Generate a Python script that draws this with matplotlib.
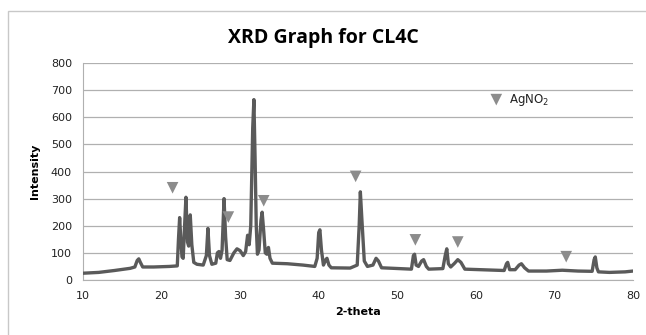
import matplotlib
matplotlib.use("Agg")
import matplotlib.pyplot as plt
from matplotlib.patches import Rectangle

# XRD pattern
two_theta = [10.0, 12.0, 14.0, 16.0, 16.6, 16.9, 17.1, 17.3, 17.6, 19.0, 21.0, 22.0,
             22.15, 22.3, 22.45, 22.6, 22.75, 22.9, 23.1, 23.3, 23.45, 23.65, 23.85,
             24.1, 24.5, 25.3, 25.7, 25.9, 26.1, 26.4, 26.9, 27.1, 27.3, 27.5, 27.7,
             27.95, 28.15, 28.35, 28.7, 29.2, 29.6, 30.0, 30.4, 30.7, 30.95, 31.15,
             31.35, 31.6, 31.75, 31.9, 32.05, 32.2, 32.4, 32.65, 32.8, 33.0, 33.2,
             33.4, 33.6, 33.8, 34.1, 36.0, 38.0, 39.5, 39.8, 40.0, 40.15, 40.35,
             40.6, 40.9, 41.05, 41.3, 41.6, 44.0, 44.9, 45.15, 45.3, 45.5, 45.8,
             46.2, 46.9, 47.3, 47.6, 48.0, 51.8, 52.05, 52.2, 52.4, 52.7, 53.1,
             53.35, 53.7, 54.0, 55.8, 56.1, 56.3, 56.5, 56.8, 57.3, 57.7, 58.1,
             58.6, 63.6, 63.9, 64.05, 64.3, 65.0, 65.5, 65.8, 66.2, 66.7, 69.0,
             71.0, 73.0, 74.8, 75.05, 75.2, 75.4, 75.6, 77.0, 79.0, 80.0]
intensity = [25, 28, 35, 43, 48, 72, 78, 65, 48, 48, 50, 52,
             150, 230, 150, 85, 80, 180, 305, 140, 125, 240, 130,
             65, 58, 55, 90, 190, 90, 58, 62, 100, 105, 80, 110,
             300, 160, 75, 72, 100, 115, 108, 90, 105, 165, 130,
             200, 560, 665, 450, 200, 95, 110, 220, 250, 180, 100,
             95, 120, 80, 62, 60, 55, 50, 80, 175, 185, 110,
             55, 75, 80, 55, 45, 44, 55, 200, 325, 220, 70,
             50, 55, 80, 70, 45, 40, 90, 95, 55, 50, 70,
             75, 50, 40, 42, 90, 115, 60, 48, 62, 75, 65,
             40, 35, 60, 65, 38, 38, 55, 60, 45, 33, 33,
             36, 33, 32, 75, 85, 45, 30, 28, 30, 33]

# AgNO2 reflection markers
marker_x = [21.4, 28.5, 33.0, 44.7, 52.3, 57.7, 71.5]
marker_y = [340, 232, 292, 382, 148, 140, 86]
legend_x = [62.6]
legend_y = [665]

LINE = "#5a5a5a"
TRI = "#8c8c8c"
GRID = "#b0b0b0"

fig = plt.figure(figsize=(6.46, 3.35), dpi=100)
fig.patches.append(Rectangle((8 / 646, -0.05), 1.0, 1 - 11 / 335 + 0.05,
                             transform=fig.transFigure, fill=False,
                             edgecolor="#c8c8c8", lw=1.0))

ax = fig.add_axes([83 / 646, 1 - 280 / 335, 550 / 646, 217 / 335])
ax.plot(two_theta, intensity, color=LINE, lw=2.4, solid_joinstyle="round", zorder=3)
ax.scatter(marker_x, marker_y, marker="v", s=70, color=TRI, edgecolors="none", zorder=4)
ax.scatter(legend_x, legend_y, marker="v", s=70, color=TRI, edgecolors="none", zorder=4)
ax.text(64.2, 665, "AgNO$_2$", fontsize=8.5, va="center", ha="left", color="#222222")

ax.set_xlim(10, 80)
ax.set_ylim(0, 800)
ax.set_xticks(range(10, 81, 10))
ax.set_yticks(range(0, 801, 100))
ax.grid(axis="y", color=GRID, lw=0.9)
ax.set_axisbelow(True)
for side in ["top", "right"]:
    ax.spines[side].set_visible(False)
ax.spines["left"].set_color(GRID)
ax.spines["bottom"].set_color(GRID)
ax.tick_params(length=0, labelsize=8, colors="#222222", pad=8)

ax.set_xlabel("2-theta", fontsize=8, fontweight="bold", labelpad=4)
ax.set_ylabel("Intensity", fontsize=8, fontweight="bold", labelpad=8)
fig.text(0.5, 1 - 38 / 335, "XRD Graph for CL4C", ha="center", va="center",
         fontsize=14, fontweight="bold", family="Open Sans")

fig.savefig("out.png", dpi=100)
